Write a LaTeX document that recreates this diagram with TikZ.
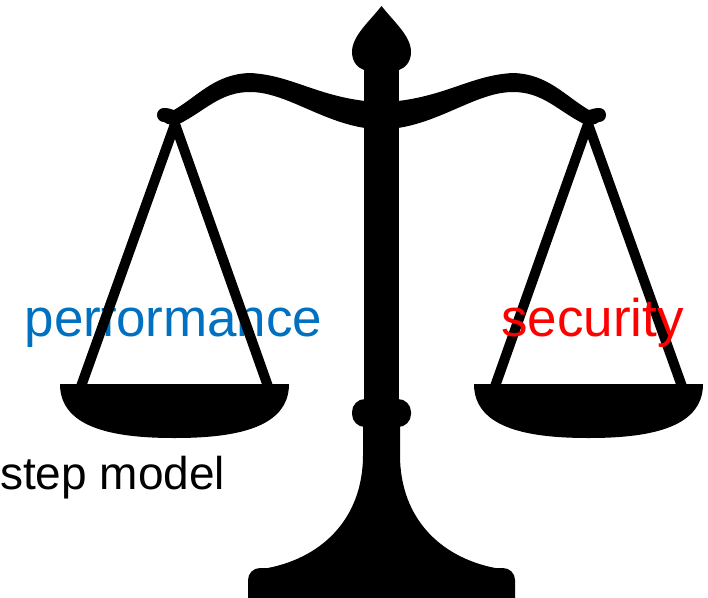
\documentclass[tikz,border=0pt]{standalone}
\usepackage{fontspec}
\setmainfont{Liberation Sans}
\definecolor{perfblue}{HTML}{0070C0}
\definecolor{secred}{HTML}{FF0000}

% One arm of the balance: beam half, hook, strings and pan (drawn for the left side)
\newcommand{\balancearm}{%
  % beam half with its curled hook end
  \fill (382,101) -- (365,101)
    .. controls (315,95) and (290,75) .. (250,73)
    .. controls (215,74) and (198,96) .. (174,110)
    .. controls (171,109) and (168,108) .. (164,108)
    .. controls (160,108) and (157,111) .. (157,115)
    .. controls (157,119) and (160,122) .. (164,122)
    .. controls (168,125) and (174,126) .. (179,124)
    .. controls (205,111) and (220,92) .. (250,92)
    .. controls (285,92) and (320,121) .. (365,128)
    -- (382,128) -- cycle;
  % strings
  \draw[stringline] (79,392) -- (175,124) -- (270,392);
  % pan
  \fill (60,384) -- (289,384)
    .. controls (289,430) and (230,438) .. (174.5,438)
    .. controls (119,438) and (60,430) .. (60,384) -- cycle;
}

\begin{document}
\begin{tikzpicture}[x=1pt,y=-1pt,
  stringline/.style={line width=10pt,line join=round},
  label/.style={inner sep=0pt,font=\fontsize{53}{60}\selectfont}]
\useasboundingbox (0,0) rectangle (708,597);
\clip (0,0) rectangle (708,597);

% label under the left strings
\node[label,anchor=base,text=perfblue] (perf) at (173.5,336) {performance};

% left arm and mirrored right arm
\balancearm
\begin{scope}[shift={(763,0)},xscale=-1]
  \balancearm
\end{scope}

% finial
\fill (381.5,6)
  .. controls (394,22) and (411,36) .. (411,52)
  .. controls (411,62) and (405,68) .. (399,70)
  -- (364,70)
  .. controls (358,68) and (352,62) .. (352,52)
  .. controls (352,36) and (369,22) .. (381.5,6) -- cycle;

% post
\fill (364,66) rectangle (399,460);

% knob on the post
\fill[rounded corners=13pt] (352,399) rectangle (411,427);

% flared stand
\fill (363,425) -- (363,455)
  .. controls (363,520) and (320,560) .. (262,569)
  -- (501,569)
  .. controls (443,560) and (400,520) .. (400,455)
  -- (400,425) -- cycle;

% foot
\fill[rounded corners=12pt] (248,568) rectangle (515,615);

% label over the right strings
\node[label,anchor=base,text=secred] (sec) at (592.5,336) {security};

% caption at the left
\node[inner sep=0pt,anchor=base west,font=\fontsize{46}{52}\selectfont] (step) at (0,489) {step model};
\end{tikzpicture}
\end{document}
